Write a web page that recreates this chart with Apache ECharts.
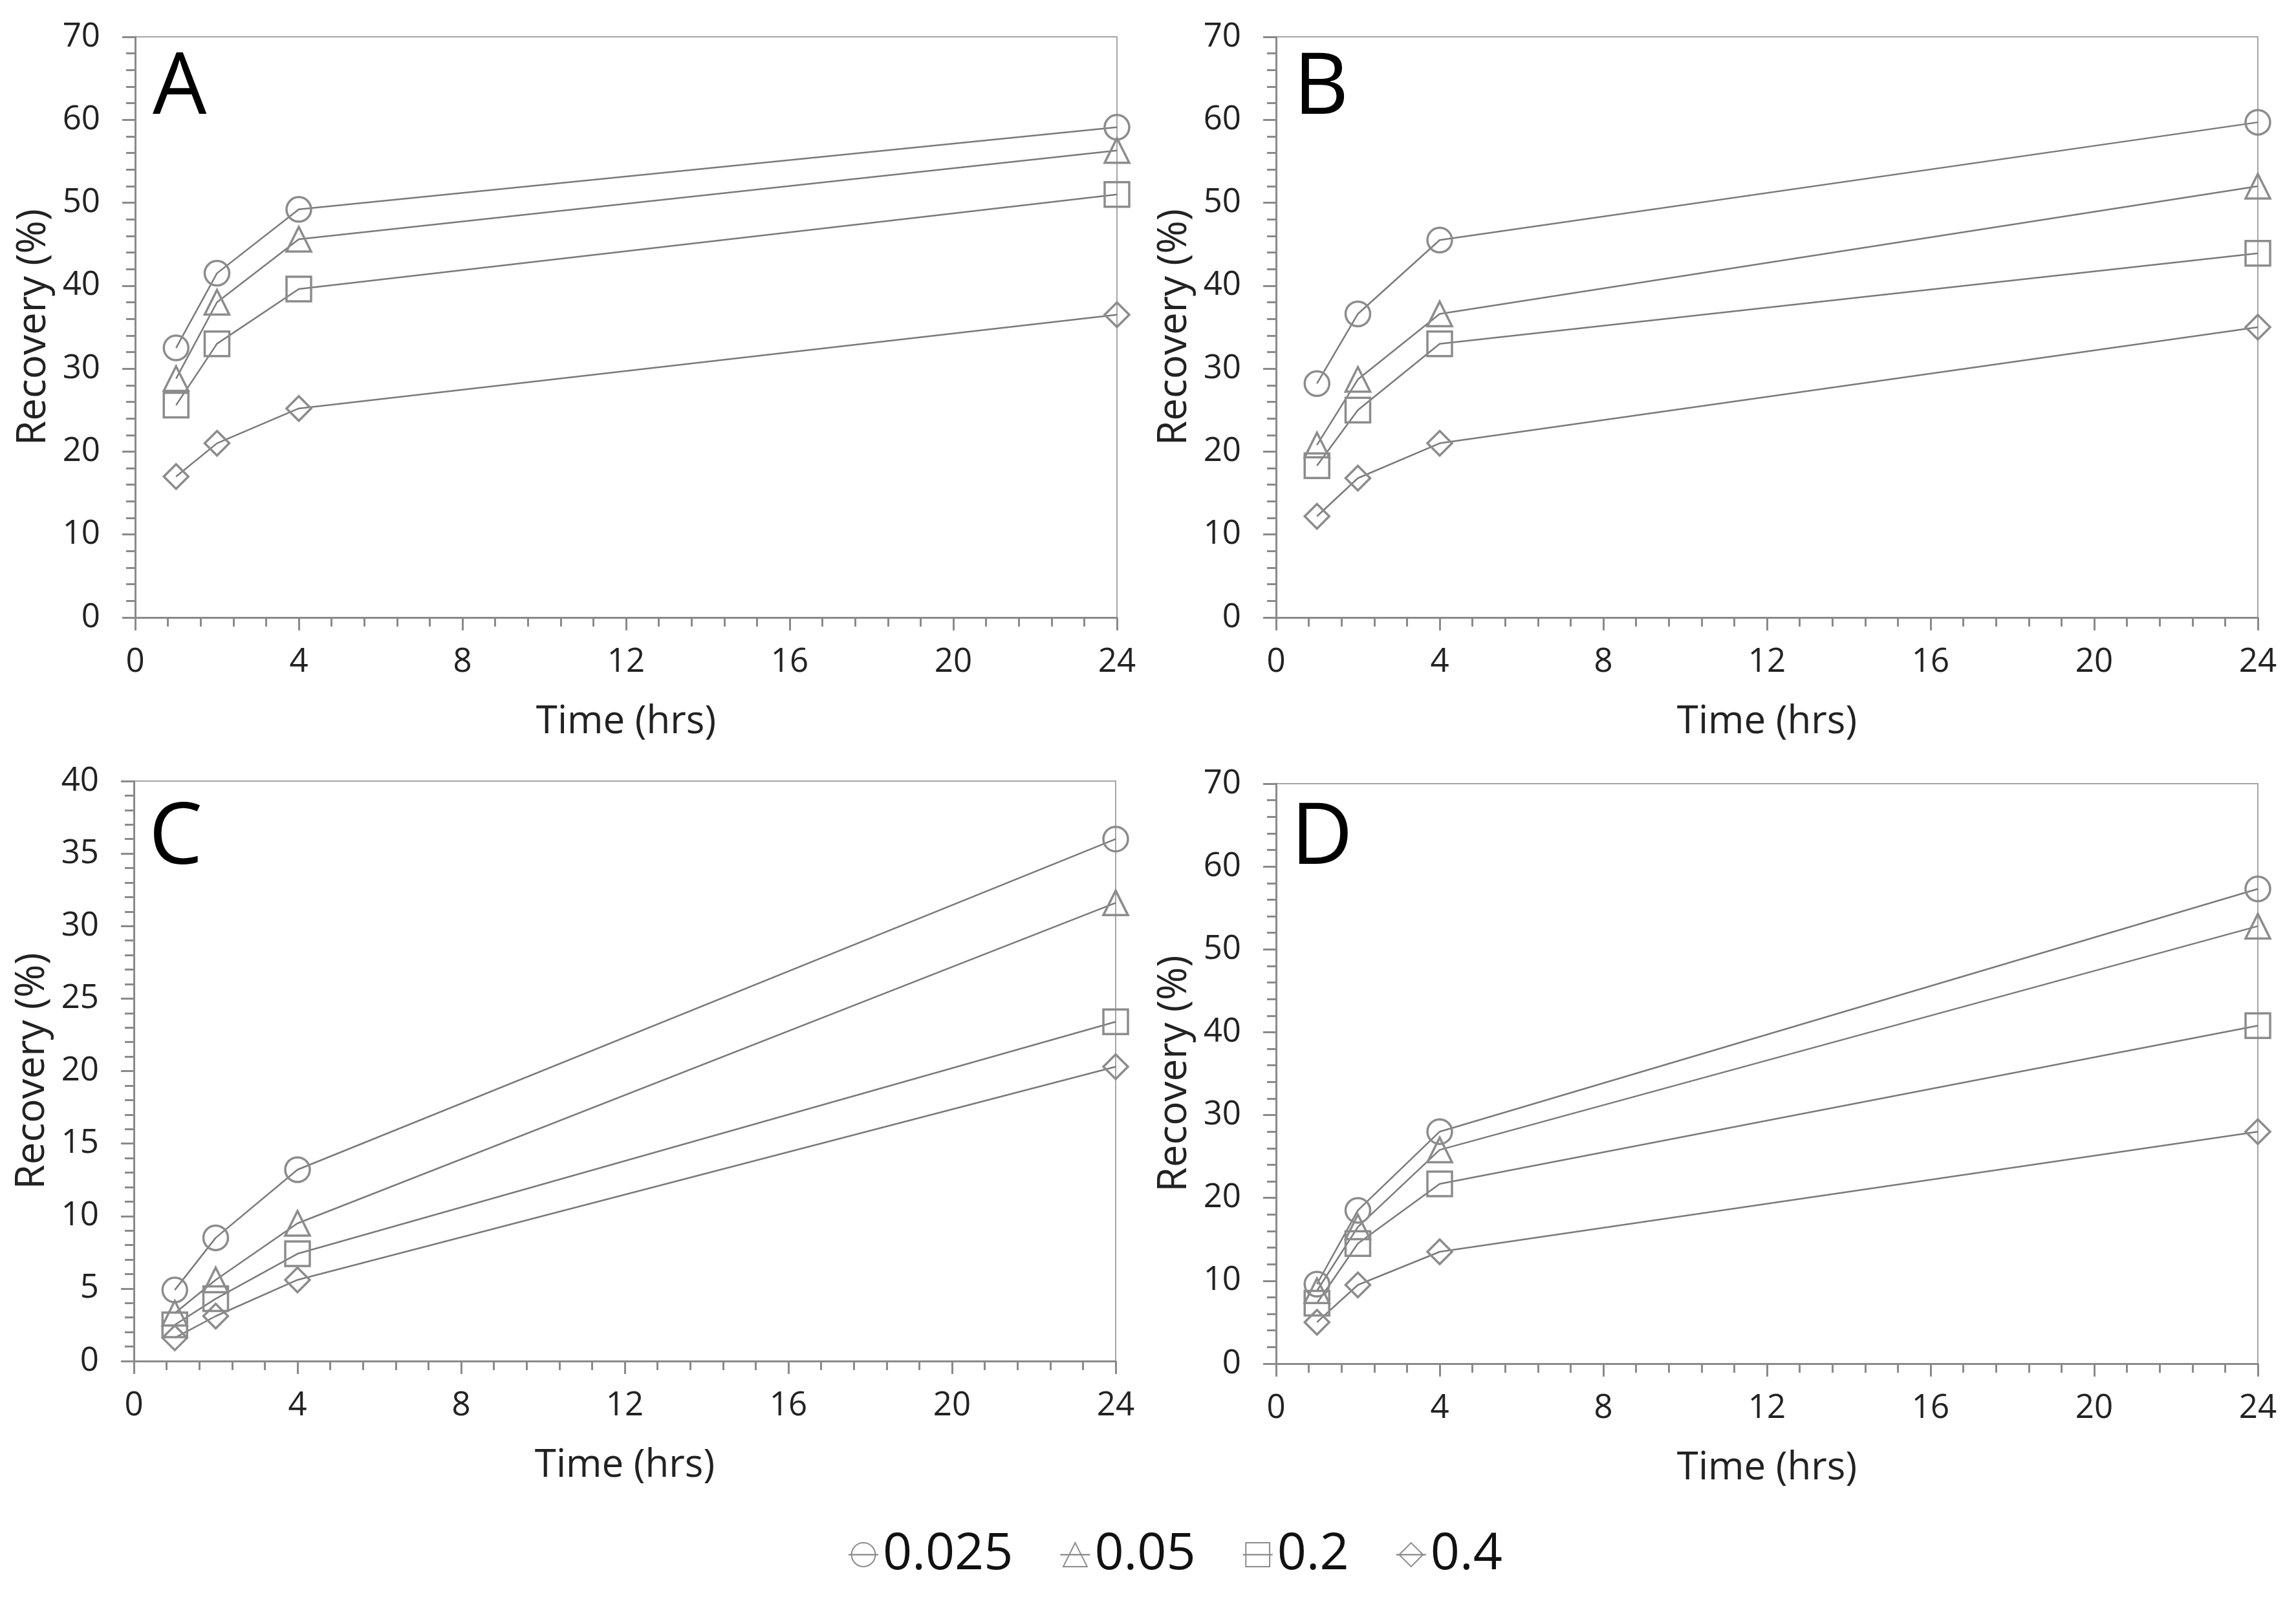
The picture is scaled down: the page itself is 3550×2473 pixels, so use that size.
<!DOCTYPE html>
<html>
<head>
<meta charset="utf-8">
<script src="https://cdn.jsdelivr.net/npm/echarts@6/dist/echarts.min.js"></script>
<style>
html,body{margin:0;padding:0;background:#fff;}
#chart{width:3550px;height:2473px;}
</style>
</head>
<body>
<div id="chart"></div>
<script>
// ---- data ----
const times = [1, 2, 4, 24];
const seriesNames = ['0.025', '0.05', '0.2', '0.4'];
const panelLetters = ['A', 'B', 'C', 'D'];
const xTicks = [0, 4, 8, 12, 16, 20, 24];

const A_0025 = [32.5, 41.5, 49.2, 59.1];
const A_005  = [28.8, 38.0, 45.6, 56.3];
const A_02   = [25.6, 33.0, 39.6, 51.0];
const A_04   = [17.0, 21.0, 25.2, 36.5];

const B_0025 = [28.2, 36.6, 45.5, 59.7];
const B_005  = [20.8, 28.7, 36.6, 52.0];
const B_02   = [18.3, 25.0, 33.0, 43.9];
const B_04   = [12.2, 16.8, 21.0, 35.0];

const C_0025 = [4.9, 8.5, 13.2, 36.0];
const C_005  = [3.3, 5.6, 9.5, 31.6];
const C_02   = [2.5, 4.3, 7.4, 23.4];
const C_04   = [1.6, 3.1, 5.6, 20.3];

const D_0025 = [9.6, 18.5, 28.0, 57.3];
const D_005  = [8.8, 16.5, 25.8, 52.8];
const D_02   = [7.3, 14.5, 21.7, 40.8];
const D_04   = [5.0, 9.5, 13.5, 28.0];

const yMaxes = [70, 70, 40, 70];
const yIntervals = [10, 10, 5, 10];

// ---- layout/style ----
const panelData = [
  [A_0025, A_005, A_02, A_04],
  [B_0025, B_005, B_02, B_04],
  [C_0025, C_005, C_02, C_04],
  [D_0025, D_005, D_02, D_04]
];
const grids = [
  {left: 209, top: 57, width: 1518, height: 898},
  {left: 1973, top: 57, width: 1518, height: 898},
  {left: 207, top: 1208, width: 1518, height: 897},
  {left: 1973, top: 1212, width: 1518, height: 897}
];
const letterPos = [
  {left: 236, top: 72},
  {left: 2000, top: 72},
  {left: 230, top: 1232},
  {left: 1996, top: 1232}
];
const symbols = ['circle', 'triangle', 'rect', 'diamond'];
const FONT = "'Open Sans', 'Noto Sans', sans-serif";
const axisGray = '#8a8a8a';
const lineGray = '#7a7a7a';
const markGray = '#8c8c8c';

const option = {
  animation: false,
  backgroundColor: '#ffffff',
  title: panelLetters.map((t, i) => ({
    text: t, left: letterPos[i].left, top: letterPos[i].top, padding: 0,
    textStyle: {fontFamily: FONT, fontSize: 132, fontWeight: 'normal', color: '#000'}
  })),
  legend: {
    data: seriesNames,
    left: 1306, top: 2360,
    itemWidth: 46, itemHeight: 46, itemGap: 72,
    textStyle: {fontFamily: FONT, fontSize: 79, color: '#111', padding: [0,0,0,2]}
  },
  grid: grids.map(g => Object.assign({show: true, borderColor: '#a6a6a6', borderWidth: 2, backgroundColor: 'transparent'}, g)),
  xAxis: grids.map((g, i) => ({
    type: 'value', gridIndex: i, min: 0, max: 24, interval: 4,
    name: 'Time (hrs)', nameLocation: 'middle', nameGap: 132,
    nameTextStyle: {fontFamily: FONT, fontSize: 60, color: '#222'},
    axisLine: {show: true, onZero: false, lineStyle: {color: axisGray, width: 3}},
    axisTick: {show: true, inside: false, length: 20, lineStyle: {color: axisGray, width: 3}},
    minorTick: {show: true, splitNumber: 5, length: 14, lineStyle: {color: axisGray, width: 3}},
    splitLine: {show: false},
    axisLabel: {margin: 44, fontFamily: FONT, fontSize: 51, color: '#222',
      customValues: xTicks}
  })),
  yAxis: grids.map((g, i) => ({
    type: 'value', gridIndex: i, min: 0, max: yMaxes[i], interval: yIntervals[i],
    name: 'Recovery (%)', nameLocation: 'middle', nameGap: 126, nameRotate: 90,
    nameTextStyle: {fontFamily: FONT, fontSize: 62, color: '#222'},
    axisLine: {show: true, onZero: false, lineStyle: {color: axisGray, width: 3}},
    axisTick: {show: true, inside: false, length: 20, lineStyle: {color: axisGray, width: 3}},
    minorTick: {show: true, splitNumber: 5, length: 14, lineStyle: {color: axisGray, width: 3}},
    splitLine: {show: false},
    axisLabel: {margin: 54, fontFamily: FONT, fontSize: 51, color: '#222'}
  })),
  series: []
};

panelData.forEach((sets, p) => {
  sets.forEach((vals, s) => {
    option.series.push({
      name: seriesNames[s],
      type: 'line',
      xAxisIndex: p, yAxisIndex: p,
      data: times.map((t, k) => [t, vals[k]]),
      symbol: symbols[s],
      symbolSize: 38,
      showSymbol: true,
      z: 3,
      lineStyle: {color: lineGray, width: 2.5},
      itemStyle: {color: 'rgba(255,255,255,0)', borderColor: markGray, borderWidth: 3.5},
      emphasis: {disabled: true}
    });
  });
});

const chart = echarts.init(document.getElementById('chart'), null, {renderer: 'canvas'});
chart.setOption(option);
</script>
</body>
</html>
